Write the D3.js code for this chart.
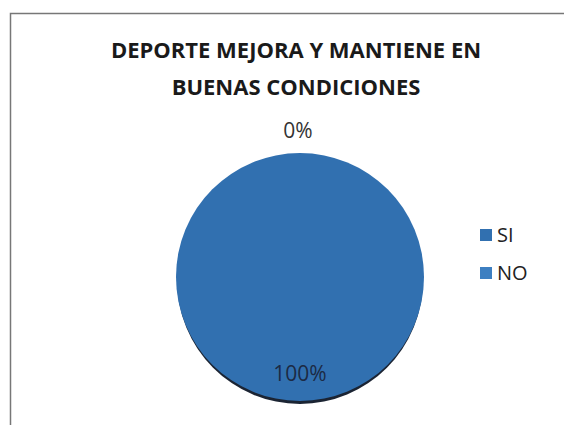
<!DOCTYPE html>
<html><head><meta charset="utf-8">
<script src="https://cdn.jsdelivr.net/npm/d3@7"></script>
<style>html,body{margin:0;padding:0;background:#fff;}svg{display:block;}</style>
</head><body>
<svg id="c" width="564" height="425"></svg>
<script>
const titleLines = ["DEPORTE MEJORA Y MANTIENE EN", "BUENAS CONDICIONES"];
const categories = ["SI", "NO"];
const values = [100, 0];
const labels = ["100%", "0%"];
const colors = ["#3170b0", "#3d7fc1"];

const svg = d3.select("#c");
const font = "'Open Sans', 'Liberation Sans', sans-serif";

// frame
svg.append("rect").attr("x", 10.5).attr("y", 13.5).attr("width", 600).attr("height", 500)
  .attr("fill", "#fff").attr("stroke", "#777").attr("stroke-width", 1.5);

// title
svg.append("text").attr("x", 296).attr("y", 58).attr("text-anchor", "middle")
  .attr("font-family", font).attr("font-weight", 700).attr("font-size", 22).attr("fill", "#1a1a1a")
  .selectAll("tspan").data(titleLines).join("tspan")
  .attr("x", 296).attr("dy", (d, i) => i === 0 ? 0 : 37).text(d => d);

const cx = 300, cy = 277, r = 124;
const pie = d3.pie().sort(null).value(d => d)(values);
const arc = d3.arc().innerRadius(0).outerRadius(r);

const g = svg.append("g").attr("transform", `translate(${cx},${cy})`);
// shadow
g.append("ellipse").attr("cx", 0).attr("cy", 3).attr("rx", r - 1).attr("ry", r)
  .attr("fill", "#1b2433");
g.selectAll("path.slice").data(pie).join("path").attr("class", "slice")
  .attr("d", arc).attr("fill", (d, i) => colors[i]);

// data labels
const labelPos = [[0, 104], [-2, -139]];
g.selectAll("text.lbl").data(pie).join("text").attr("class", "lbl")
  .attr("x", (d, i) => labelPos[i][0]).attr("y", (d, i) => labelPos[i][1])
  .attr("text-anchor", "middle").attr("font-family", font).attr("font-size", 21)
  .attr("fill", (d, i) => i === 0 ? "#1c2a44" : "#333").text((d, i) => labels[i]);

// legend
const leg = svg.append("g").attr("transform", "translate(480,228)");
const items = leg.selectAll("g").data(categories).join("g")
  .attr("transform", (d, i) => `translate(0,${i * 38})`);
items.append("rect").attr("x", 0).attr("y", 1).attr("width", 12).attr("height", 12)
  .attr("fill", (d, i) => colors[i]);
items.append("text").attr("x", 17).attr("y", 14).attr("font-family", font).attr("font-size", 20)
  .attr("fill", "#222").text(d => d);
</script>
</body></html>
